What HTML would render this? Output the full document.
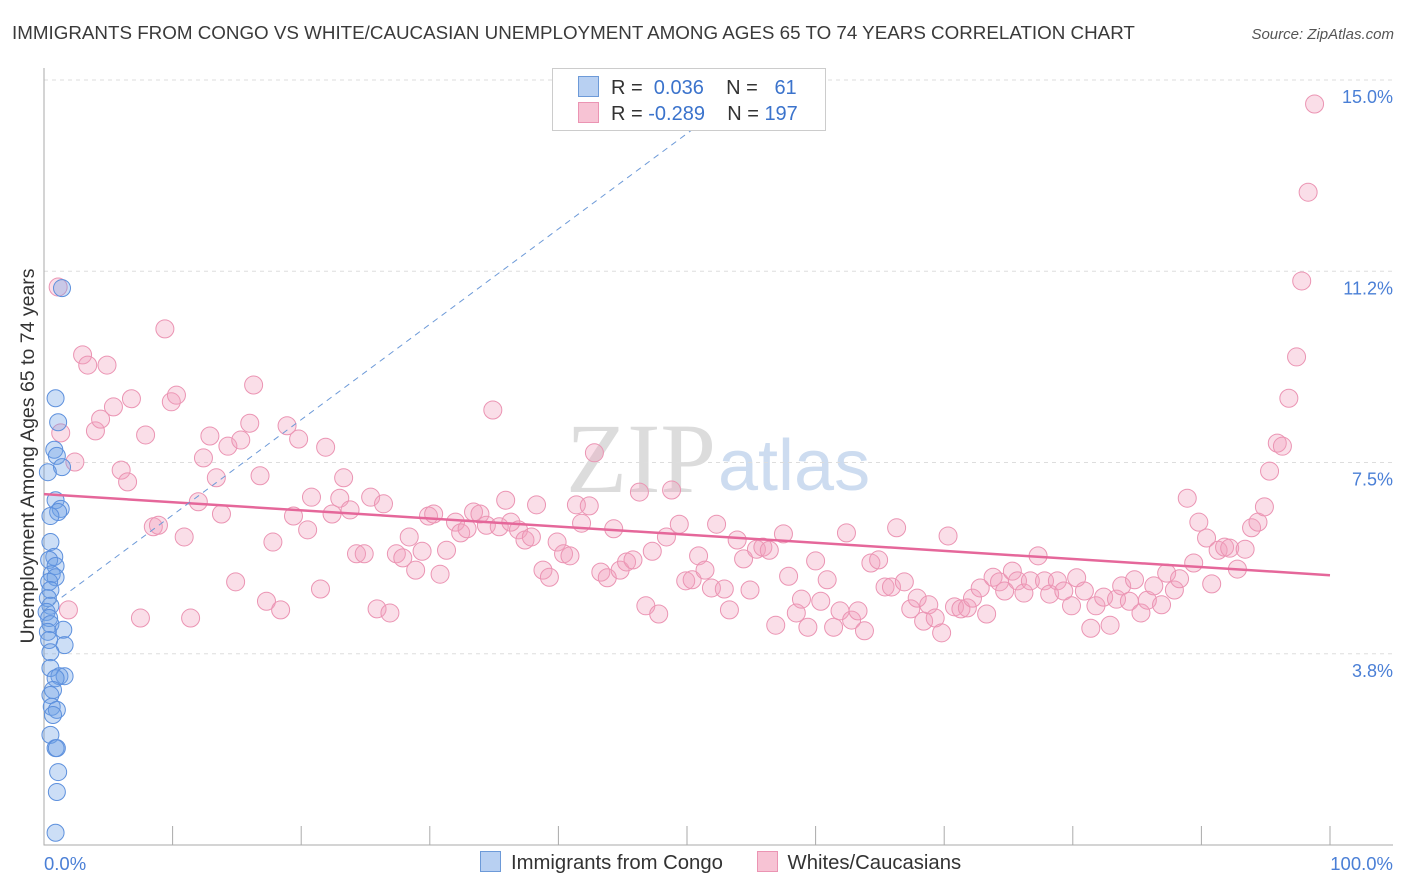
<!DOCTYPE html>
<html><head><meta charset="utf-8"><style>
body{margin:0;background:#fff;font-family:"Liberation Sans",sans-serif;}
svg{display:block}
</style></head><body>
<svg id="chart" width="1406" height="892" xmlns="http://www.w3.org/2000/svg">
<text x="12" y="39" font-size="18.8" fill="#3a3a3a">IMMIGRANTS FROM CONGO VS WHITE/CAUCASIAN UNEMPLOYMENT AMONG AGES 65 TO 74 YEARS CORRELATION CHART</text>
<text x="1394" y="39" font-size="15" fill="#555" font-style="italic" text-anchor="end">Source: ZipAtlas.com</text>
<text x="716" y="492" font-size="100" fill="#dcdcdc" text-anchor="end" font-family="Liberation Serif, serif">ZIP</text>
<text x="718" y="490" font-size="72" fill="#cddcf0">atlas</text>
<text transform="translate(34,456) rotate(-90)" font-size="19.5" fill="#333" text-anchor="middle">Unemployment Among Ages 65 to 74 years</text>
<g id="grid"></g><g id="marks"></g>
</svg>
<script>
const yTicks=[3.75,7.5,11.25,15];
const yTickLabels=["3.8%","7.5%","11.2%","15.0%"];
const xTickLabels=["0.0%","100.0%"];
const pinkX=[1.1,1.9,1.3,2.4,3.0,3.4,4.9,4.0,4.4,5.4,6.0,6.5,6.8,7.5,7.9,8.5,8.9,9.4,9.9,10.3,10.9,11.4,12.0,12.4,12.9,13.4,13.8,14.3,14.9,15.3,16.0,16.3,16.8,17.3,17.8,18.4,18.9,19.4,19.8,20.5,20.8,21.5,21.9,22.4,23.0,23.3,23.8,24.3,24.9,25.4,25.9,26.4,26.9,27.4,27.9,28.4,28.9,29.4,29.9,30.3,30.8,31.3,32.0,32.4,32.9,33.4,33.9,34.4,34.9,35.4,35.9,36.3,36.9,37.4,37.9,38.3,38.8,39.3,39.9,40.4,40.9,41.4,41.8,42.4,42.8,43.3,43.8,44.3,44.8,45.3,45.8,46.3,46.8,47.3,47.8,48.4,48.8,49.4,49.9,50.4,50.9,51.4,51.9,52.3,52.9,53.3,53.9,54.4,54.9,55.4,55.9,56.4,56.9,57.5,57.9,58.5,58.9,59.4,60.0,60.4,60.9,61.4,61.9,62.4,62.8,63.3,63.8,64.3,64.9,65.4,65.9,66.3,66.9,67.4,67.9,68.4,68.8,69.3,69.8,70.3,70.8,71.3,71.8,72.2,72.8,73.3,73.8,74.3,74.7,75.3,75.7,76.2,76.7,77.3,77.8,78.2,78.8,79.3,79.9,80.3,80.9,81.4,81.8,82.4,82.9,83.4,83.8,84.4,84.8,85.3,85.8,86.3,86.9,87.3,87.9,88.3,88.9,89.4,89.8,90.4,90.8,91.3,91.8,92.2,92.8,93.4,93.9,94.4,94.9,95.3,95.9,96.3,96.8,97.4,97.8,98.3,98.8];
const pinkY=[10.94,4.61,8.08,7.51,9.61,9.41,9.41,8.12,8.35,8.59,7.35,7.12,8.75,4.45,8.04,6.24,6.27,10.12,8.69,8.82,6.04,4.45,6.73,7.59,8.02,7.20,6.49,7.82,5.16,7.94,8.27,9.02,7.24,4.78,5.94,4.61,8.22,6.45,7.96,6.18,6.82,5.02,7.80,6.49,6.80,7.20,6.57,5.71,5.71,6.82,4.63,6.69,4.55,5.71,5.63,6.04,5.39,5.76,6.45,6.49,5.31,5.78,6.33,6.12,6.20,6.53,6.49,6.27,8.53,6.24,6.76,6.33,6.18,5.98,6.04,6.67,5.39,5.25,5.94,5.71,5.67,6.67,6.31,6.65,7.69,5.35,5.24,6.20,5.39,5.55,5.59,6.92,4.69,5.76,4.53,6.04,6.96,6.29,5.18,5.20,5.67,5.39,5.04,6.29,5.02,4.61,5.98,5.61,5.00,5.80,5.84,5.78,4.31,6.10,5.27,4.55,4.82,4.27,5.57,4.78,5.20,4.27,4.59,6.12,4.41,4.59,4.20,5.53,5.59,5.06,5.06,6.22,5.16,4.63,4.84,4.39,4.71,4.45,4.16,6.06,4.67,4.63,4.65,4.84,5.04,4.53,5.25,5.16,4.98,5.37,5.18,4.94,5.18,5.67,5.18,4.92,5.18,4.98,4.69,5.24,4.98,4.25,4.69,4.86,4.31,4.82,5.08,4.78,5.20,4.55,4.80,5.08,4.71,5.33,5.00,5.22,6.80,5.53,6.33,6.02,5.12,5.78,5.84,5.82,5.41,5.80,6.22,6.33,6.63,7.33,7.88,7.82,8.76,9.57,11.06,12.80,14.53];
const blueX=[1.4,0.9,1.1,0.8,1.0,1.4,0.3,0.9,1.3,1.1,0.5,0.5,0.8,0.4,0.9,0.6,0.9,0.4,0.5,0.3,0.5,0.2,0.4,0.5,1.5,0.3,0.4,1.6,0.5,0.5,1.2,1.6,0.9,0.7,0.5,0.6,1.0,0.7,0.5,0.9,1.0,1.1,1.0,0.9];
const blueY=[10.92,8.76,8.29,7.75,7.63,7.41,7.31,6.76,6.59,6.53,6.45,5.94,5.65,5.59,5.47,5.31,5.25,5.16,5.00,4.84,4.69,4.57,4.45,4.33,4.22,4.18,4.02,3.92,3.78,3.47,3.31,3.31,3.27,3.04,2.94,2.71,2.65,2.55,2.16,1.90,1.90,1.43,1.04,0.24];
const pinkTrend=[6.88,5.29];   // value at x=0 and x=100
const blueTrend=[4.6,0.187];   // intercept, slope per %
const X=v=>44+v*12.86, Y=v=>845-v*51.0;
const NS="http://www.w3.org/2000/svg";
function mk(tag,attrs,parent){const e=document.createElementNS(NS,tag);for(const k in attrs)e.setAttribute(k,attrs[k]);parent.appendChild(e);return e;}
const grid=document.getElementById('grid'),marks=document.getElementById('marks');
yTicks.forEach((t,i)=>{
 const l=mk('line',{x1:44,x2:1393,y1:Y(t),y2:Y(t),stroke:'#ddd','stroke-dasharray':'4,4'},grid);
 
 
 const tx=mk('text',{x:1393,y:Y(t)+23,'font-size':18,fill:'#4a7fd6','text-anchor':'end'},grid);tx.textContent=yTickLabels[i];
 
 
});
const ax=mk('path',{d:'M44,68 V845 H1393',stroke:'#aaa',fill:'none'},grid);


for(let i=0;i<=10;i++){const t=mk('line',{x1:X(i*10),x2:X(i*10),y1:826,y2:845,stroke:'#aaa'},grid);
 
 }
[[0,'start',44],[100,'end',1393]].forEach((a,i)=>{const t=mk('text',{x:a[2],y:870,'font-size':18.5,fill:'#4a7fd6','text-anchor':a[1]},grid);t.textContent=xTickLabels[i];
 
 });
pinkX.forEach((x,i)=>{const c=mk('circle',{cx:X(x),cy:Y(pinkY[i]),r:9,fill:'rgba(242,160,188,0.35)',stroke:'#eb94b3','stroke-width':1},marks);
 
 });
blueX.forEach((x,i)=>{const c=mk('circle',{cx:X(x),cy:Y(blueY[i]),r:8.5,fill:'rgba(110,160,230,0.35)',stroke:'#5d90dd','stroke-width':1},marks);
 
 });
const pl=mk('line',{x1:X(0),y1:Y(pinkTrend[0]),x2:X(100),y2:Y(pinkTrend[1]),stroke:'#e5679a','stroke-width':2.5},marks);


const bx2=(15-blueTrend[0])/blueTrend[1];
const bl=mk('line',{x1:X(0),y1:Y(blueTrend[0]),x2:X(bx2),y2:Y(15),stroke:'#6d9ad8','stroke-width':1,'stroke-dasharray':'6,5'},marks);


</script>
<div style="position:absolute;left:552px;top:68px;width:272px;height:61px;border:1px solid #ccc;background:#fff;font-size:20px;color:#333">
 <div style="position:absolute;left:25px;top:7px;white-space:pre"><span style="display:inline-block;width:19px;height:19px;background:#b8d0f2;border:1px solid #6d9ad8;vertical-align:-3px;margin-right:12px"></span>R =  <span style="color:#3b73cc">0.036</span>    N =   <span style="color:#3b73cc">61</span></div>
 <div style="position:absolute;left:25px;top:33px;white-space:pre"><span style="display:inline-block;width:19px;height:19px;background:#f7c3d4;border:1px solid #eb94b3;vertical-align:-3px;margin-right:12px"></span>R = <span style="color:#3b73cc">-0.289</span>    N = <span style="color:#3b73cc">197</span></div>
</div>
<div style="position:absolute;left:480px;top:851px;font-size:20.3px;color:#333;white-space:nowrap">
 <span><span style="display:inline-block;width:19px;height:19px;background:#b8d0f2;border:1px solid #6d9ad8;vertical-align:-3px;margin-right:10px"></span>Immigrants from Congo</span>
 <span style="margin-left:28px"><span style="display:inline-block;width:19px;height:19px;background:#f7c3d4;border:1px solid #eb94b3;vertical-align:-3px;margin-right:10px"></span>Whites/Caucasians</span>
</div>
</body></html>
